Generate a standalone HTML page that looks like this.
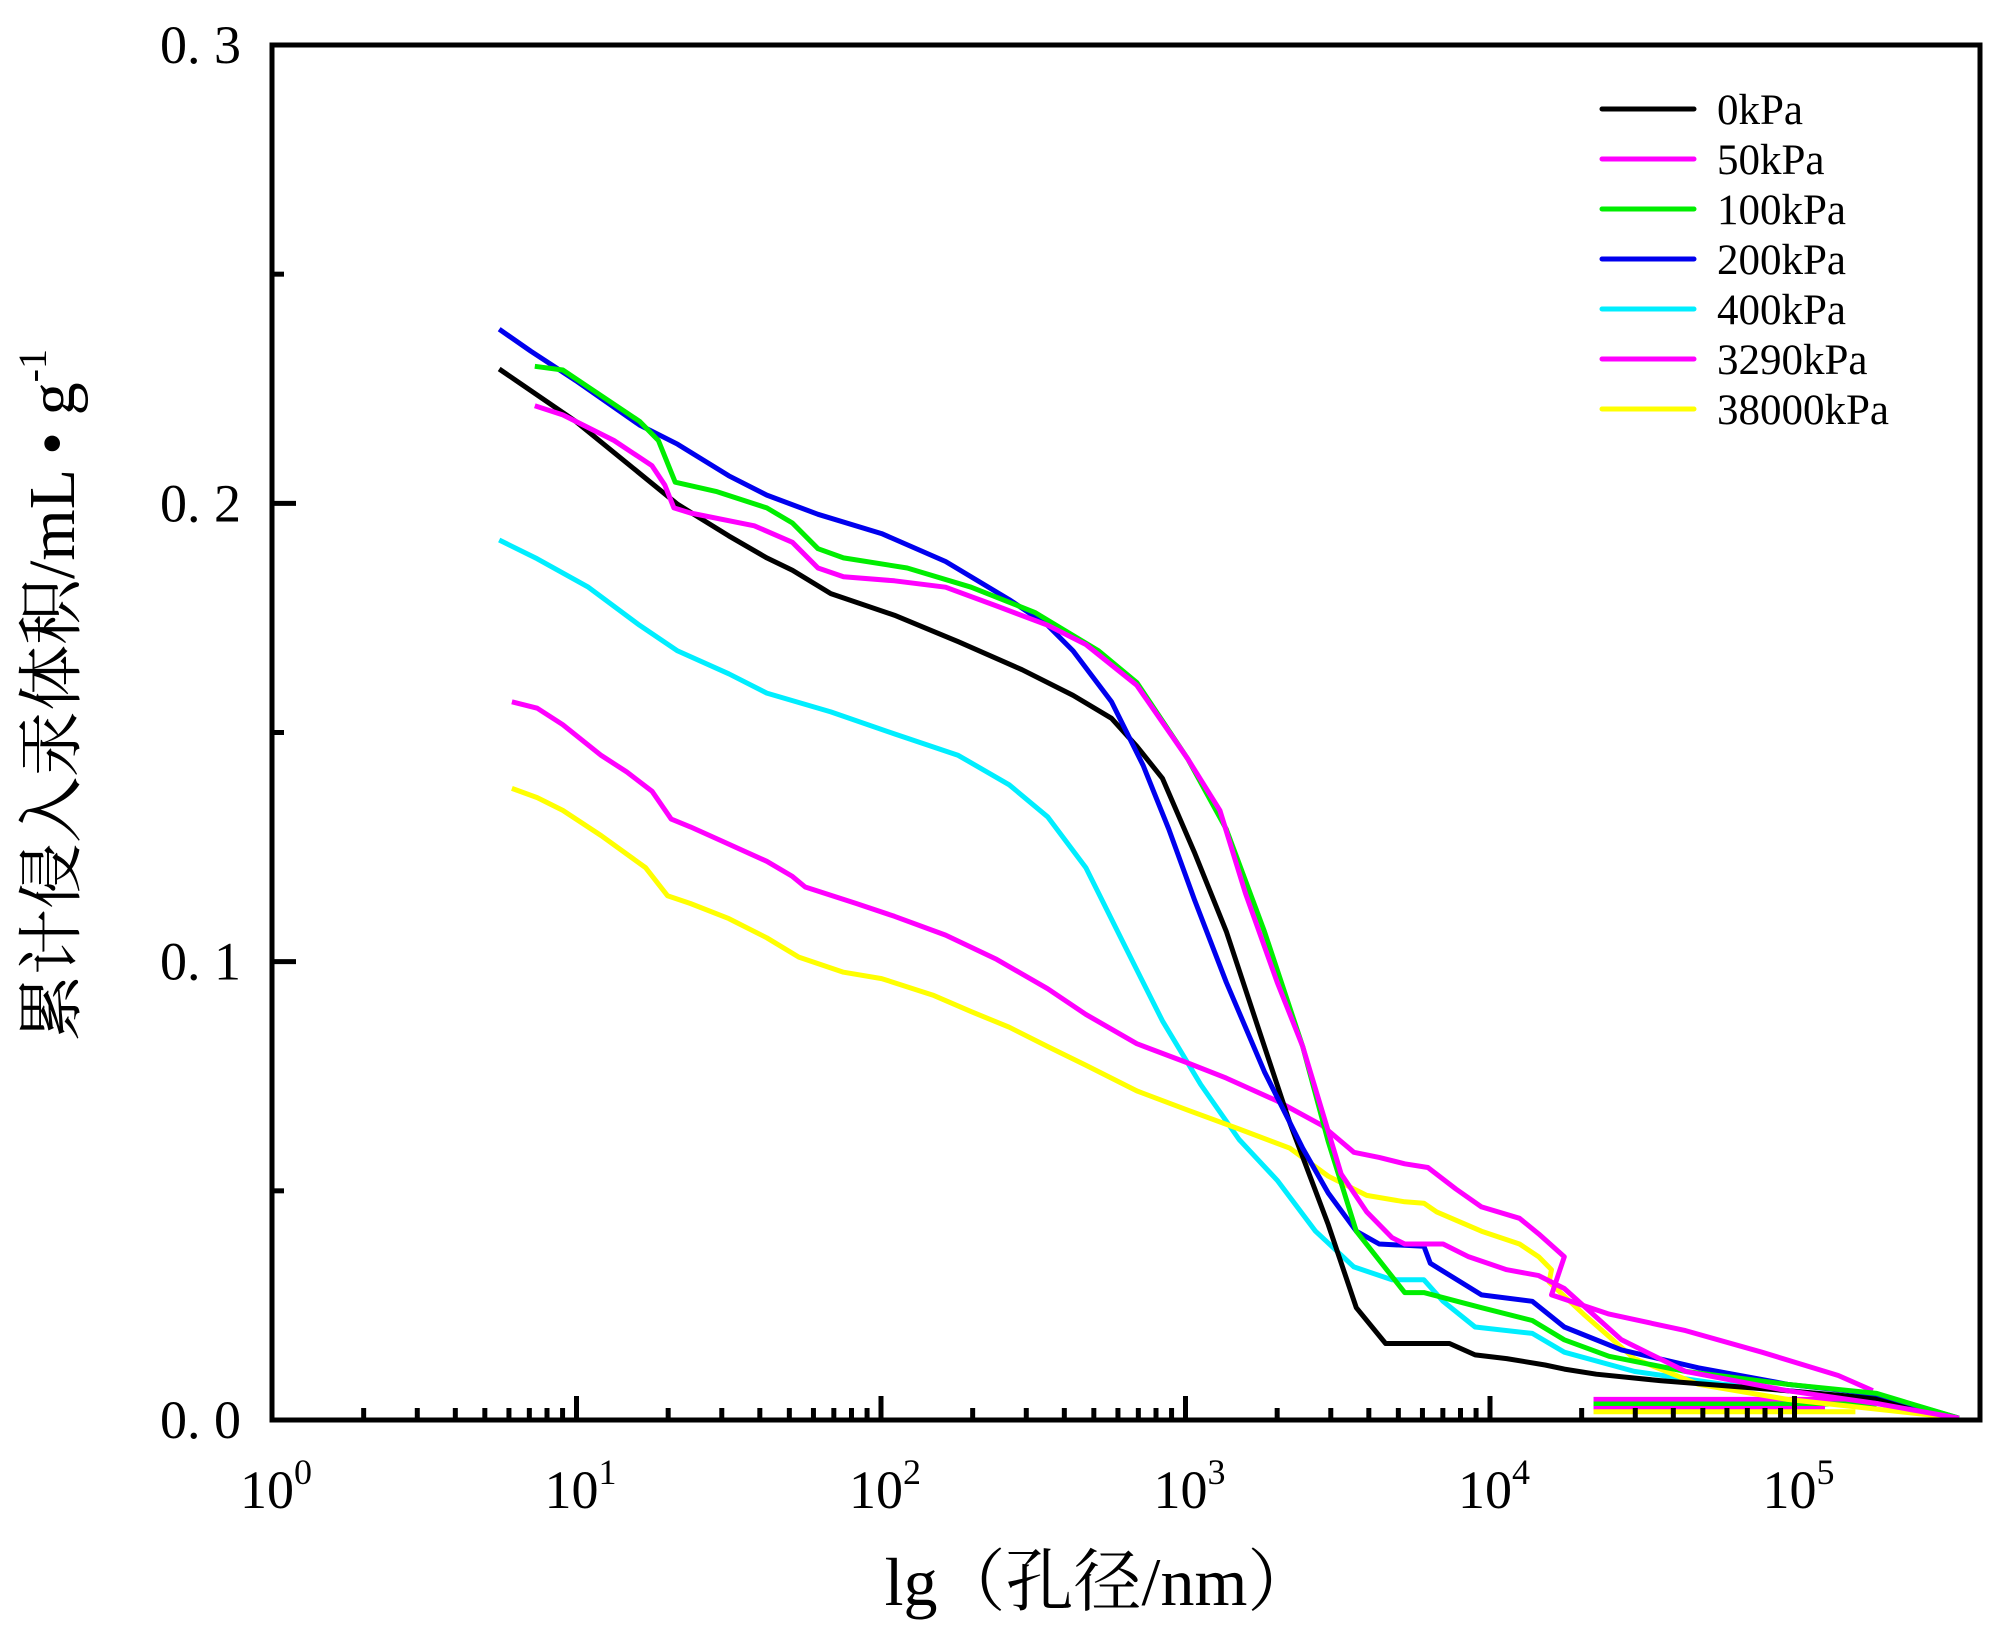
<!DOCTYPE html>
<html><head><meta charset="utf-8">
<style>
html,body{margin:0;padding:0;background:#fff;}
svg{display:block;}
text{font-family:"Liberation Serif","Noto Serif CJK SC",serif;fill:#000;}
</style></head>
<body>
<svg id="chart" width="2000" height="1636" viewBox="0 0 2000 1636" xmlns="http://www.w3.org/2000/svg">
<g id="series"></g>
<g id="axes"></g>
<g id="legend"></g>
<text x="1100" y="1605" font-size="68" text-anchor="middle">lg（孔径/nm）</text>
<text transform="translate(74,695) rotate(-90)" font-size="66" text-anchor="middle">累计侵入汞体积/mL • g<tspan dy="-28" font-size="40">-1</tspan></text>
</svg>
<script>
// data: x = log10(pore diameter, nm), y = cumulative intrusion volume mL/g
const seriesNames = ["0kPa","50kPa","100kPa","200kPa","400kPa","3290kPa","38000kPa"];
const seriesColors = ["#000000","#ff00ff","#00ee00","#0000ee","#00eeff","#ff00ff","#ffff00"];
const lg0 = [0.746,0.997,1.332,1.50,1.625,1.709,1.835,2.044,2.254,2.463,2.631,2.757,2.840,2.924,3.029,3.134,3.238,3.343,3.469,3.561,3.657,3.762,3.867,3.951,4.055,4.181,4.244,4.349,4.558,4.977,5.270,5.540];
const v0 = [0.2293,0.2179,0.1998,0.1929,0.1881,0.1854,0.1803,0.1756,0.1698,0.1637,0.1581,0.1531,0.1470,0.1400,0.1239,0.1066,0.0857,0.0648,0.0426,0.0245,0.0167,0.0167,0.0167,0.0142,0.0134,0.0120,0.0111,0.0100,0.0086,0.0064,0.0047,0.0004];
const lg50 = [0.863,0.955,1.123,1.248,1.290,1.32,1.374,1.584,1.709,1.793,1.877,2.044,2.212,2.380,2.547,2.673,2.840,3.008,3.113,3.197,3.301,3.385,3.448,3.511,3.595,3.678,3.720,3.846,3.930,4.055,4.160,4.244,4.432,4.642,4.977,5.270,5.540];
const v50 = [0.2213,0.2193,0.2137,0.2082,0.2040,0.1990,0.1979,0.1951,0.1915,0.1859,0.1840,0.1831,0.1817,0.1776,0.1734,0.1692,0.1603,0.1442,0.1330,0.1149,0.0955,0.0815,0.0676,0.0537,0.0454,0.0398,0.0384,0.0384,0.0356,0.0328,0.0315,0.0287,0.0175,0.0106,0.0064,0.0036,0.0004];
const lg100 = [0.863,0.955,1.207,1.269,1.324,1.458,1.625,1.709,1.793,1.877,2.086,2.296,2.505,2.715,2.840,3.008,3.134,3.259,3.385,3.469,3.561,3.720,3.783,3.972,4.139,4.244,4.391,4.642,4.977,5.270,5.540];
const v100 = [0.2299,0.2291,0.2179,0.2137,0.2046,0.2026,0.1990,0.1957,0.1901,0.1881,0.1859,0.1817,0.1762,0.1678,0.1609,0.1442,0.1289,0.1066,0.0815,0.0607,0.0412,0.0278,0.0278,0.0245,0.0217,0.0175,0.0139,0.0106,0.0078,0.0058,0.0004];
const lg200 = [0.746,0.850,0.997,1.207,1.332,1.500,1.625,1.793,2.002,2.212,2.421,2.547,2.631,2.757,2.861,2.945,3.029,3.134,3.259,3.385,3.469,3.561,3.636,3.783,3.804,3.972,4.139,4.244,4.432,4.684,4.977,5.270,5.540];
const v200 = [0.2380,0.2332,0.2268,0.2171,0.2129,0.2060,0.2018,0.1976,0.1934,0.1873,0.1790,0.1734,0.1678,0.1567,0.1428,0.1289,0.1136,0.0955,0.0760,0.0593,0.0495,0.0412,0.0384,0.0379,0.0342,0.0273,0.0259,0.0203,0.0153,0.0114,0.0078,0.0056,0.0004];
const lg400 = [0.746,0.871,1.039,1.207,1.332,1.500,1.625,1.835,2.044,2.254,2.421,2.547,2.673,2.798,2.924,3.050,3.176,3.301,3.427,3.553,3.678,3.783,3.846,3.951,4.139,4.244,4.474,4.767,5.102,5.540];
const v400 = [0.1920,0.1879,0.1817,0.1734,0.1678,0.1628,0.1586,0.1545,0.1497,0.1450,0.1386,0.1316,0.1205,0.1038,0.0871,0.0732,0.0612,0.0523,0.0412,0.0334,0.0306,0.0306,0.0259,0.0203,0.0189,0.0148,0.0106,0.0078,0.0056,0.0004];
const lg3290 = [0.788,0.871,0.955,1.081,1.165,1.248,1.311,1.374,1.458,1.625,1.709,1.751,1.919,2.044,2.212,2.380,2.547,2.673,2.840,3.008,3.134,3.301,3.448,3.553,3.636,3.720,3.796,3.888,3.972,4.097,4.160,4.244,4.202,4.391,4.642,4.893,5.144,5.257];
const v3290 = [0.1567,0.1553,0.1517,0.1450,0.1414,0.1372,0.1311,0.1294,0.1269,0.1219,0.1186,0.1163,0.1127,0.1099,0.1058,0.1005,0.0941,0.0885,0.0821,0.0779,0.0746,0.0696,0.0643,0.0584,0.0573,0.0559,0.0551,0.0504,0.0465,0.0440,0.0406,0.0356,0.0273,0.0231,0.0195,0.0148,0.0097,0.0064];
const lg38000 = [0.788,0.871,0.955,1.081,1.227,1.299,1.374,1.500,1.625,1.730,1.877,2.002,2.170,2.296,2.421,2.547,2.673,2.840,3.008,3.176,3.343,3.469,3.595,3.720,3.783,3.825,3.972,4.097,4.160,4.202,4.194,4.307,4.474,4.684,4.977,5.540];
const v38000 = [0.1378,0.1358,0.1330,0.1275,0.1205,0.1144,0.1127,0.1094,0.1052,0.1010,0.0977,0.0963,0.0927,0.0891,0.0857,0.0815,0.0774,0.0718,0.0676,0.0635,0.0593,0.0532,0.0490,0.0476,0.0473,0.0454,0.0412,0.0384,0.0356,0.0328,0.0301,0.0231,0.0134,0.0078,0.0045,0.0004];
// short flat baseline artifacts near bottom right
const tailLgStart = [4.34,4.34,4.34,4.34];
const tailLgEnd = [5.27,5.27,5.10,5.20];
const tailV = [0.0045,0.0035,0.0025,0.0018];
const tailColors = ["#ff00ff","#00ee00","#ff00ff","#ffff00"];
const yTicks = [0, 0.1, 0.2, 0.3];
const yTickLabels = ["0. 0","0. 1","0. 2","0. 3"];
const xDecades = [0,1,2,3,4,5];

const seriesLg = [lg0,lg50,lg100,lg200,lg400,lg3290,lg38000];
const seriesV = [v0,v50,v100,v200,v400,v3290,v38000];

const L=272, R=1980, T=45, B=1420;
const X0=272, DEC=304.5;
function xs(lg){return X0+DEC*lg;}
function ys(v){return B-(v/0.3)*(B-T);}
const NS="http://www.w3.org/2000/svg";
function mk(tag, parent){const e=document.createElementNS(NS,tag);parent.appendChild(e);return e;}

const gS=document.getElementById('series');
for(let k=0;k<tailV.length;k++){
  const l=mk('line',gS);
  
  
  l.setAttribute('x1',xs(tailLgStart[k]));l.setAttribute('x2',xs(tailLgEnd[k]));
  l.setAttribute('y1',ys(tailV[k]));l.setAttribute('y2',ys(tailV[k]));
  l.setAttribute('stroke',tailColors[k]);l.setAttribute('stroke-width','5');
}
const order=[4,6,5,0,3,2,1];
order.forEach(i=>{
  const p=mk('polyline',gS);
  
  
  p.setAttribute('points',seriesLg[i].map((g,j)=>xs(g).toFixed(1)+','+ys(seriesV[i][j]).toFixed(1)).join(' '));
  p.setAttribute('fill','none');p.setAttribute('stroke',seriesColors[i]);
  p.setAttribute('stroke-width','5');p.setAttribute('stroke-linejoin','round');
});

const gA=document.getElementById('axes');
const fr=mk('rect',gA);


fr.setAttribute('x',L);fr.setAttribute('y',T);fr.setAttribute('width',R-L);fr.setAttribute('height',B-T);
fr.setAttribute('fill','none');fr.setAttribute('stroke','#000');fr.setAttribute('stroke-width','5');
xDecades.forEach(d=>{
  const x=xs(d);
  const t=mk('line',gA);
  
  
  t.setAttribute('x1',x);t.setAttribute('x2',x);t.setAttribute('y1',B);t.setAttribute('y2',B-24);
  t.setAttribute('stroke','#000');t.setAttribute('stroke-width','5');
  const lab=mk('text',gA);
  
  
  lab.setAttribute('x',x+4);lab.setAttribute('y',1508);lab.setAttribute('font-size','54');lab.setAttribute('text-anchor','middle');
  lab.innerHTML='10<tspan dy="-24" font-size="36">'+d+'</tspan>';
  if(d<5){
    for(let m=2;m<=9;m++){
      const xm=xs(d+Math.log10(m));
      const mt=mk('line',gA);
      
      
      mt.setAttribute('x1',xm);mt.setAttribute('x2',xm);mt.setAttribute('y1',B);mt.setAttribute('y2',B-12);
      mt.setAttribute('stroke','#000');mt.setAttribute('stroke-width','5');
    }
  }
});
yTicks.forEach((v,i)=>{
  const y=ys(v);
  const t=mk('line',gA);
  
  
  t.setAttribute('x1',L);t.setAttribute('x2',L+24);t.setAttribute('y1',y);t.setAttribute('y2',y);
  t.setAttribute('stroke','#000');t.setAttribute('stroke-width','5');
  const lab=mk('text',gA);
  
  
  lab.setAttribute('x',241);lab.setAttribute('y',y+18);lab.setAttribute('font-size','54');lab.setAttribute('text-anchor','end');
  lab.textContent=yTickLabels[i];
  if(i<yTicks.length-1){
    const ym=ys(v+0.05);
    const mt=mk('line',gA);
    
    
    mt.setAttribute('x1',L);mt.setAttribute('x2',L+12);mt.setAttribute('y1',ym);mt.setAttribute('y2',ym);
    mt.setAttribute('stroke','#000');mt.setAttribute('stroke-width','5');
  }
});
const gL=document.getElementById('legend');
seriesNames.forEach((n,i)=>{
  const y=109+50*i;
  const l=mk('line',gL);
  
  
  l.setAttribute('x1',1602);l.setAttribute('x2',1694);l.setAttribute('y1',y);l.setAttribute('y2',y);
  l.setAttribute('stroke',seriesColors[i]);l.setAttribute('stroke-width','5');l.setAttribute('stroke-linecap','round');
  const t=mk('text',gL);
  
  
  t.setAttribute('x',1717);t.setAttribute('y',y+15);t.setAttribute('font-size','43');
  t.textContent=n;
});
</script>
</body></html>
